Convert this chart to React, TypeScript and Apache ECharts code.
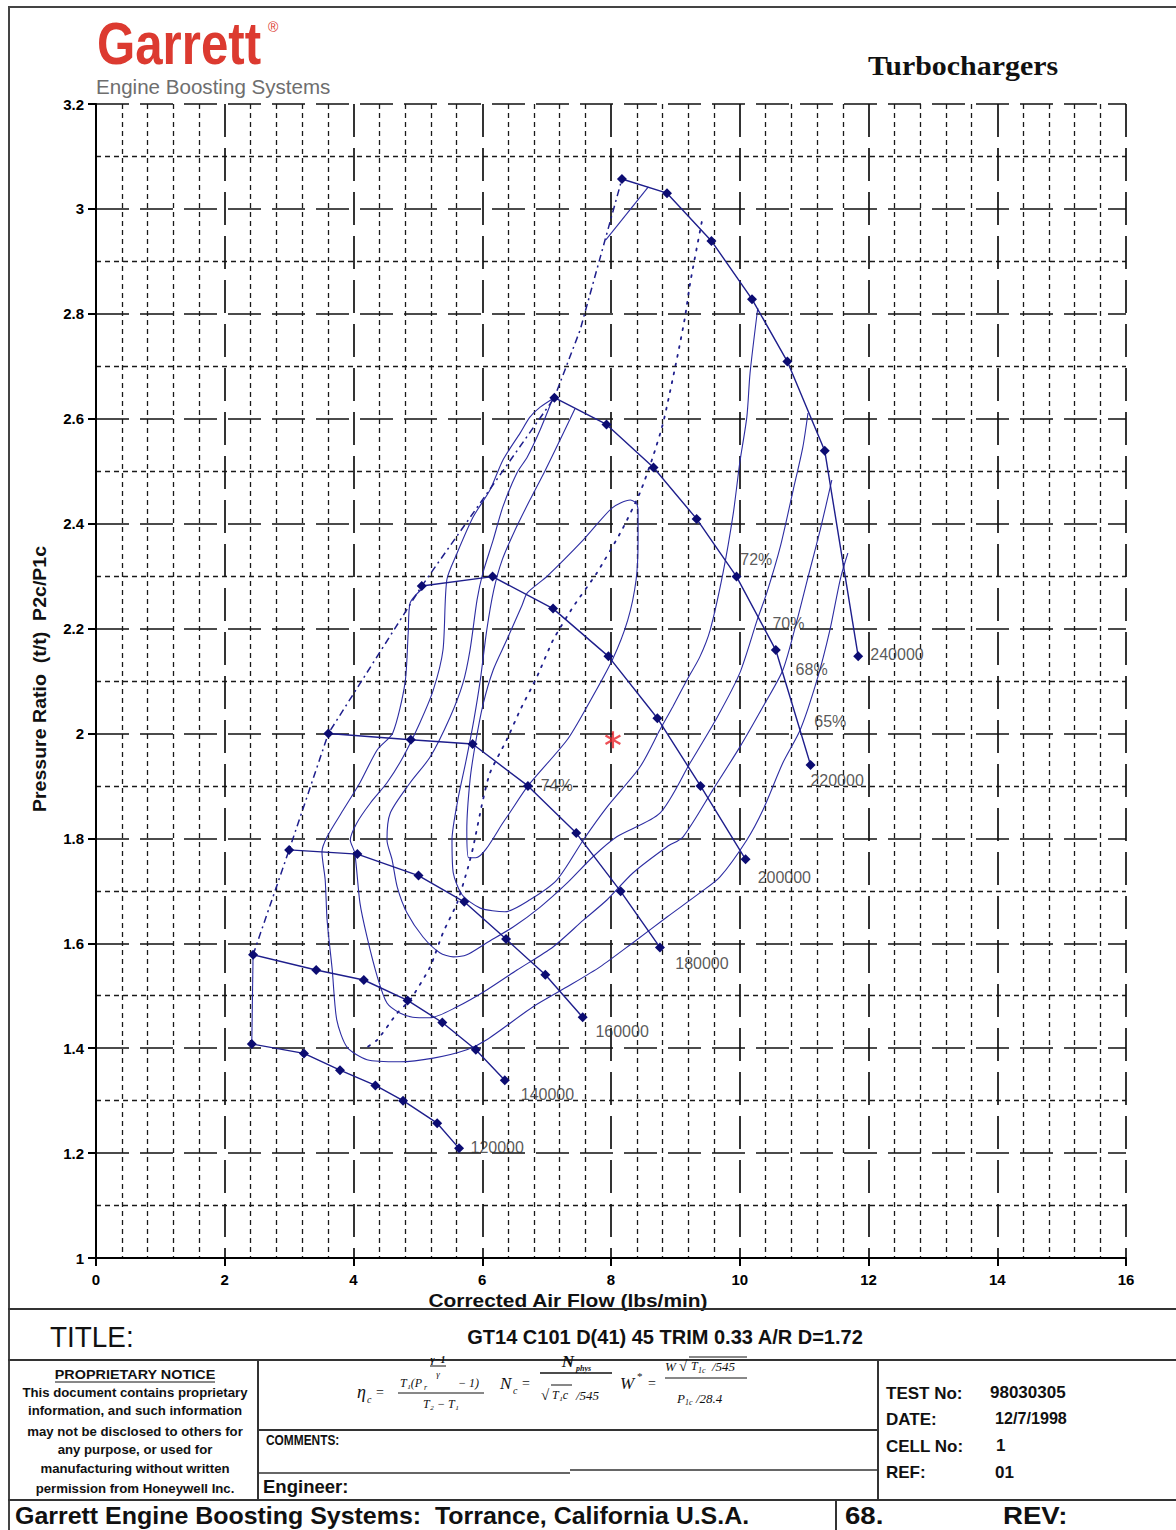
import React, { useEffect, useRef } from 'react';
import * as echarts from 'echarts';

// ---------- data (lbs/min, pressure ratio) ----------
const speedNames = ['120000', '140000', '160000', '180000', '200000', '220000', '240000'];
const speed120 = [[2.42, 1.408], [3.23, 1.39], [3.79, 1.358], [4.34, 1.329], [4.77, 1.3], [5.3, 1.257], [5.64, 1.209]];
const speed140 = [[2.44, 1.578], [3.42, 1.549], [4.16, 1.53], [4.84, 1.491], [5.38, 1.449], [5.9, 1.397], [6.35, 1.339]];
const speed160 = [[3.0, 1.778], [4.06, 1.77], [5.01, 1.729], [5.72, 1.679], [6.37, 1.608], [6.98, 1.54], [7.56, 1.459]];
const speed180 = [[3.61, 2.0], [4.89, 1.988], [5.85, 1.98], [6.71, 1.9], [7.46, 1.81], [8.15, 1.699], [8.76, 1.592]];
const speed200 = [[5.06, 2.281], [6.16, 2.299], [7.1, 2.238], [7.96, 2.147], [8.72, 2.029], [9.39, 1.9], [10.09, 1.76]];
const speed220 = [[7.12, 2.64], [7.93, 2.589], [8.66, 2.507], [9.33, 2.409], [9.95, 2.299], [10.56, 2.159], [11.1, 1.94]];
const speed240 = [[8.17, 3.057], [8.87, 3.03], [9.56, 2.939], [10.19, 2.828], [10.74, 2.709], [11.32, 2.539], [11.84, 2.147]];
const speedLabelPos = [[5.81, 1.21], [6.59, 1.311], [7.75, 1.431], [8.99, 1.562], [10.27, 1.726], [11.09, 1.911], [12.02, 2.15]];

const surgeLow = [[2.42, 1.408], [2.44, 1.578]];
const surgeLine = [[2.44, 1.578], [3.0, 1.778], [3.61, 2.0], [5.06, 2.281], [7.12, 2.64], [7.52, 2.769], [8.17, 3.057]];
const surgeEdge = [[8.58, 3.042], [7.92, 2.941]];

const dottedLine = [[9.41, 2.975], [9.23, 2.859], [9.15, 2.794], [9.03, 2.718], [8.81, 2.592], [8.65, 2.527], [8.45, 2.459], [8.17, 2.388], [7.78, 2.306], [7.41, 2.241], [7.1, 2.178], [6.85, 2.108], [6.59, 2.045], [6.38, 1.988], [6.12, 1.925], [6.01, 1.873], [5.86, 1.784], [5.78, 1.745], [5.61, 1.677], [5.39, 1.62], [5.19, 1.555], [4.88, 1.492], [4.68, 1.467], [4.37, 1.416], [4.15, 1.397]];

const eff65 = [[5.05, 2.274], [4.88, 2.249], [4.85, 2.192], [4.8, 2.096], [4.61, 2.001], [4.37, 1.969], [4.1, 1.906], [3.84, 1.854], [3.59, 1.803], [3.51, 1.774], [3.56, 1.721], [3.59, 1.644], [3.67, 1.549], [3.74, 1.454], [3.9, 1.402], [4.21, 1.378], [4.72, 1.374], [5.24, 1.381], [5.76, 1.397], [6.07, 1.416], [6.79, 1.479], [7.32, 1.517], [7.83, 1.555], [8.34, 1.601], [8.87, 1.65], [9.38, 1.696], [9.69, 1.726], [10.11, 1.797], [10.36, 1.854], [10.67, 1.944], [10.94, 2.007], [11.2, 2.102], [11.4, 2.197], [11.56, 2.293], [11.68, 2.344]];
const eff68 = [[7.12, 2.64], [6.9, 2.622], [6.74, 2.603], [6.59, 2.573], [6.32, 2.521], [6.12, 2.464], [5.86, 2.413], [5.61, 2.344], [5.45, 2.293], [5.39, 2.159], [5.24, 2.083], [5.03, 2.02], [4.77, 1.955], [4.52, 1.906], [4.26, 1.867], [4.05, 1.829], [3.95, 1.797], [4.02, 1.772], [4.1, 1.677], [4.21, 1.612], [4.37, 1.536], [4.52, 1.486], [4.72, 1.467], [4.92, 1.459], [5.19, 1.458], [5.61, 1.479], [6.07, 1.511], [6.54, 1.549], [7.1, 1.593], [7.57, 1.644], [7.94, 1.683], [8.34, 1.734], [8.87, 1.784], [9.12, 1.803], [9.58, 1.892], [10.0, 1.974], [10.36, 2.051], [10.67, 2.121], [10.89, 2.216], [11.05, 2.293], [11.25, 2.388], [11.43, 2.483]];
const eff70 = [[7.1, 2.64], [6.9, 2.579], [6.7, 2.527], [6.54, 2.497], [6.32, 2.432], [6.17, 2.369], [6.01, 2.306], [5.92, 2.255], [5.81, 2.159], [5.7, 2.096], [5.5, 2.031], [5.19, 1.955], [4.88, 1.906], [4.57, 1.848], [4.52, 1.797], [4.6, 1.759], [4.68, 1.707], [4.83, 1.658], [5.08, 1.612], [5.34, 1.582], [5.55, 1.574], [5.76, 1.578], [6.07, 1.601], [6.48, 1.631], [6.9, 1.669], [7.32, 1.715], [7.72, 1.765], [8.09, 1.803], [8.76, 1.848], [9.23, 1.944], [9.65, 2.031], [10.0, 2.115], [10.27, 2.216], [10.42, 2.268], [10.63, 2.356], [10.83, 2.464], [10.98, 2.546], [11.06, 2.611]];
const eff72 = [[7.44, 2.619], [7.21, 2.56], [6.98, 2.502], [6.74, 2.445], [6.51, 2.388], [6.31, 2.331], [6.18, 2.274], [6.07, 2.197], [5.97, 2.102], [5.87, 2.026], [5.75, 1.949], [5.62, 1.873], [5.53, 1.797], [5.55, 1.734], [5.69, 1.692], [5.97, 1.667], [6.35, 1.66], [6.74, 1.683], [7.16, 1.721], [7.57, 1.797], [7.94, 1.86], [8.45, 1.936], [8.76, 2.007], [8.96, 2.051], [9.18, 2.102], [9.38, 2.146], [9.54, 2.197], [9.74, 2.306], [9.9, 2.42], [10.0, 2.516], [10.11, 2.603], [10.16, 2.687], [10.28, 2.811]];
const eff74 = [[8.4, 2.439], [8.3, 2.445], [8.02, 2.43], [7.57, 2.369], [7.01, 2.3], [6.7, 2.268], [6.62, 2.245], [6.38, 2.178], [6.17, 2.121], [6.01, 2.054], [5.89, 1.978], [5.81, 1.911], [5.76, 1.816], [5.79, 1.763], [5.9, 1.763], [6.35, 1.835], [6.71, 1.9], [7.32, 1.988], [7.64, 2.054], [8.02, 2.14], [8.26, 2.216], [8.39, 2.293], [8.42, 2.369], [8.42, 2.426], [8.4, 2.439]];
const effNames = ['74%', '72%', '70%', '68%', '65%'];
const effLabelPos = [[6.9, 1.9], [10.0, 2.331], [10.5, 2.209], [10.86, 2.121], [11.15, 2.022]];

const testPoint = [[8.03, 1.988]];

const xMin = 0, xMax = 16, xInterval = 2;
const yMin = 1, yMax = 3.2, yInterval = 0.2;

const NAVY = '#1e1e8c';
const NAVY_DARK = '#0c0c72';
const ISLE = '#2c2ca2';
const SANS = 'Liberation Sans, Arial, sans-serif';
const SERIF = 'Liberation Serif, Times New Roman, serif';

const ASTERISK =
  'path://M-1.2,9L1.2,9L1.2,-9L-1.2,-9Z M7.194,5.539L8.394,3.461L-7.194,-5.539L-8.394,-3.461Z M8.394,-3.461L7.194,-5.539L-8.394,3.461L-7.194,5.539Z';

function T(text: string, x: number, y: number, o: any = {}) {
  return {
    type: 'text',
    x,
    y,
    rotation: o.rotation || 0,
    scaleX: o.scaleX || 1,
    scaleY: o.scaleY || 1,
    silent: true,
    style: {
      text,
      fill: o.fill || '#111',
      fontSize: o.size || 14,
      fontWeight: o.weight || 'normal',
      fontStyle: o.italic ? 'italic' : 'normal',
      fontFamily: o.family || SANS,
      align: o.align || 'left',
      verticalAlign: 'middle',
    },
  };
}
function L(x1: number, y1: number, x2: number, y2: number, w = 2, c = '#333') {
  return { type: 'line', silent: true, shape: { x1, y1, x2, y2 }, style: { stroke: c, lineWidth: w } };
}

export default function App() {
  const ref = useRef<HTMLDivElement>(null);
  useEffect(() => {
    document.body.style.margin = '0';
    const chart = echarts.init(ref.current!, null, { renderer: 'svg' });
    const speeds = [speed120, speed140, speed160, speed180, speed200, speed220, speed240];
    const islands = [eff65, eff68, eff70, eff72, eff74];

    const series: any[] = [];
    islands.forEach((d, i) => {
      series.push({
        type: 'line', name: 'eff' + i, data: d, symbol: 'none', smooth: 0.25, silent: true, z: 3,
        lineStyle: { color: ISLE, width: 1.1 },
      });
    });
    series.push({
      type: 'line', name: 'choke', data: dottedLine, symbol: 'none', smooth: 0.2, silent: true, z: 3,
      lineStyle: { color: NAVY, width: 1.8, type: [2, 7], cap: 'round' },
    });
    series.push({
      type: 'line', name: 'surge', data: surgeLine, symbol: 'none', silent: true, z: 3,
      lineStyle: { color: NAVY, width: 1.5, type: [7, 4, 2, 4] },
    });
    series.push({
      type: 'line', name: 'surgeLow', data: surgeLow, symbol: 'none', silent: true, z: 3,
      lineStyle: { color: ISLE, width: 1.1 },
    });
    series.push({
      type: 'line', name: 'surgeEdge', data: surgeEdge, symbol: 'none', silent: true, z: 3,
      lineStyle: { color: ISLE, width: 1.1 },
    });
    speeds.forEach((d, i) => {
      series.push({
        type: 'line', name: speedNames[i], data: d, symbol: 'diamond', symbolSize: 10, silent: true, z: 5,
        lineStyle: { color: NAVY, width: 1.4 }, itemStyle: { color: NAVY_DARK },
      });
    });
    const labelData = speedNames.map((n, i) => ({ name: n, value: speedLabelPos[i] }))
      .concat(effNames.map((n, i) => ({ name: n, value: effLabelPos[i] })));
    series.push({
      type: 'scatter', name: 'labels', data: labelData, symbolSize: 1, silent: true, z: 6,
      itemStyle: { color: 'rgba(0,0,0,0)' },
      label: {
        show: true, formatter: '{b}', position: 'right', distance: 0,
        color: '#2e2e2e', fontSize: 16, fontFamily: SANS,
      },
    });
    series.push({
      type: 'scatter', name: 'test', data: testPoint, symbol: ASTERISK, symbolSize: [16, 17], silent: true, z: 6,
      itemStyle: { color: '#e8232b' },
    });

    const majorLine = { show: true, lineStyle: { color: '#111', width: 1.7, type: [33, 11] } };
    const minorLine = { show: true, lineStyle: { color: '#1a1a1a', width: 1.3, type: [5, 4] } };

    const graphic: any[] = [
      // frame
      L(8, 7, 1176, 7, 2, '#444'),
      L(9, 7, 9, 1530, 2, '#444'),
      // header
      T('Garrett', 97, 43, { size: 60, weight: 'bold', fill: '#dc3a30', scaleX: 0.82 }),
      T('®', 268, 27, { size: 14, fill: '#dc3a30' }),
      T('Engine Boosting Systems', 96, 86, { size: 21, fill: '#6e6e6e', scaleX: 0.98 }),
      T('Turbochargers', 868, 65, { size: 28, weight: 'bold', family: SERIF, scaleX: 1.07 }),
      // axis names
      T('Pressure Ratio  (t/t)  P2c/P1c', 40, 679, { size: 19, weight: 'bold', align: 'center', rotation: Math.PI / 2, scaleX: 1.03 }),
      T('Corrected Air Flow (lbs/min)', 568, 1300, { size: 19, weight: 'bold', align: 'center', scaleX: 1.1 }),
      // footer structure
      L(8, 1309, 1176, 1309),
      L(8, 1360, 1176, 1360),
      L(258, 1360, 258, 1500),
      L(878, 1360, 878, 1500),
      L(258, 1430, 878, 1430),
      L(258, 1473, 570, 1473, 1.5),
      L(570, 1470, 878, 1470, 1.5),
      L(8, 1500, 1176, 1500),
      L(836, 1500, 836, 1530),
      T('TITLE:', 50, 1337, { size: 30, scaleX: 0.93 }),
      T('GT14 C101 D(41) 45 TRIM 0.33 A/R D=1.72', 665, 1337, { size: 20, weight: 'bold', align: 'center', scaleX: 1.0 }),
      // proprietary notice
      T('PROPRIETARY NOTICE', 135, 1375, { size: 12, weight: 'bold', align: 'center', scaleX: 1.2 }),
      L(55, 1382, 215, 1382, 1, '#111'),
      T('This document contains proprietary', 135, 1393, { size: 12, weight: 'bold', align: 'center', scaleX: 1.1 }),
      T('information, and such information', 135, 1411, { size: 12, weight: 'bold', align: 'center', scaleX: 1.1 }),
      T('may not be disclosed to others for', 135, 1432, { size: 12, weight: 'bold', align: 'center', scaleX: 1.1 }),
      T('any purpose, or used for', 135, 1450, { size: 12, weight: 'bold', align: 'center', scaleX: 1.1 }),
      T('manufacturing without written', 135, 1469, { size: 12, weight: 'bold', align: 'center', scaleX: 1.1 }),
      T('permission from Honeywell Inc.', 135, 1489, { size: 12, weight: 'bold', align: 'center', scaleX: 1.1 }),
      // formulas
      T('η', 357, 1392, { size: 18, italic: true, family: SERIF }),
      T('c', 367, 1399, { size: 10, italic: true, family: SERIF }),
      T('=', 376, 1392, { size: 14, family: SERIF }),
      T('T₁(P', 400, 1383, { size: 12, italic: true, family: SERIF }),
      T('r', 424, 1387, { size: 8, italic: true, family: SERIF }),
      T('γ−1', 438, 1359, { size: 10, weight: 'bold', italic: true, family: SERIF, align: 'center' }),
      L(430, 1366, 446, 1366, 1, '#111'),
      T('γ', 438, 1374, { size: 9, italic: true, family: SERIF, align: 'center' }),
      T('− 1)', 458, 1383, { size: 12, italic: true, family: SERIF }),
      L(398, 1393, 484, 1393, 1, '#111'),
      T('T₂ − T₁', 441, 1404, { size: 12, italic: true, family: SERIF, align: 'center' }),
      T('N', 500, 1383, { size: 17, italic: true, family: SERIF }),
      T('c', 513, 1390, { size: 10, italic: true, family: SERIF }),
      T('=', 522, 1383, { size: 14, family: SERIF }),
      T('N', 568, 1361, { size: 17, italic: true, weight: 'bold', family: SERIF, align: 'center' }),
      T('phys', 576, 1368, { size: 8, italic: true, weight: 'bold', family: SERIF }),
      L(540, 1373, 612, 1373, 1.5, '#111'),
      T('√', 541, 1395, { size: 15, family: SERIF }),
      L(551, 1385, 572, 1385, 1, '#111'),
      T('T₁c', 552, 1395, { size: 12, italic: true, family: SERIF }),
      T('/545', 576, 1395, { size: 13, italic: true, family: SERIF }),
      T('W', 620, 1383, { size: 17, italic: true, family: SERIF }),
      T('*', 637, 1376, { size: 11, family: SERIF }),
      T('=', 648, 1383, { size: 14, family: SERIF }),
      T('W', 665, 1366, { size: 13, italic: true, family: SERIF }),
      T('√', 679, 1366, { size: 15, family: SERIF }),
      L(689, 1357, 747, 1357, 1, '#111'),
      T('T', 691, 1366, { size: 12, italic: true, family: SERIF }),
      T('1c', 698, 1370, { size: 8, italic: true, family: SERIF }),
      T('/545', 712, 1366, { size: 13, italic: true, family: SERIF }),
      L(665, 1378, 747, 1378, 1, '#111'),
      T('P', 677, 1398, { size: 13, italic: true, family: SERIF }),
      T('1c', 685, 1402, { size: 8, italic: true, family: SERIF }),
      T('/28.4', 696, 1398, { size: 13, italic: true, family: SERIF }),
      // comments / engineer
      T('COMMENTS:', 266, 1440, { size: 14, weight: 'bold', scaleX: 0.85 }),
      T('Engineer:', 263, 1487, { size: 18, weight: 'bold', scaleX: 1.03 }),
      // right cells
      T('TEST No:', 886, 1393, { size: 17, weight: 'bold' }),
      T('98030305', 990, 1392, { size: 17, weight: 'bold' }),
      T('DATE:', 886, 1419, { size: 17, weight: 'bold' }),
      T('12/7/1998', 995, 1418, { size: 17, weight: 'bold', scaleX: 0.95 }),
      T('CELL No:', 886, 1446, { size: 17, weight: 'bold' }),
      T('1', 996, 1445, { size: 17, weight: 'bold' }),
      T('REF:', 886, 1472, { size: 17, weight: 'bold' }),
      T('01', 995, 1472, { size: 17, weight: 'bold' }),
      // bottom strip
      T('Garrett Engine Boosting Systems:  Torrance, California U.S.A.', 15, 1516, { size: 24, weight: 'bold', scaleX: 1.04 }),
      T('68.', 845, 1516, { size: 24, weight: 'bold', scaleX: 1.15 }),
      T('REV:', 1003, 1516, { size: 24, weight: 'bold', scaleX: 1.15 }),
    ];

    chart.setOption({
      animation: false,
      backgroundColor: '#ffffff',
      grid: { left: 96, top: 104, width: 1030, height: 1154, containLabel: false },
      xAxis: {
        type: 'value', min: xMin, max: xMax, interval: xInterval,
        axisLine: { show: true, onZero: false, lineStyle: { color: '#000', width: 2 } },
        axisTick: { show: true, length: 8, lineStyle: { color: '#000', width: 2 } },
        axisLabel: { color: '#000', fontSize: 15, fontWeight: 'bold', fontFamily: SANS, margin: 14 },
        splitLine: majorLine,
        minorTick: { show: false, splitNumber: 5 },
        minorSplitLine: minorLine,
      },
      yAxis: {
        type: 'value', min: yMin, max: yMax, interval: yInterval,
        axisLine: { show: true, onZero: false, lineStyle: { color: '#000', width: 2 } },
        axisTick: { show: true, length: 8, lineStyle: { color: '#000', width: 2 } },
        axisLabel: { color: '#000', fontSize: 15, fontWeight: 'bold', fontFamily: SANS, margin: 12 },
        splitLine: majorLine,
        minorTick: { show: false, splitNumber: 2 },
        minorSplitLine: minorLine,
      },
      series,
      graphic,
    });
    return () => chart.dispose();
  }, []);
  return <div ref={ref} style={{ width: 1176, height: 1530, background: '#fff' }} />;
}
